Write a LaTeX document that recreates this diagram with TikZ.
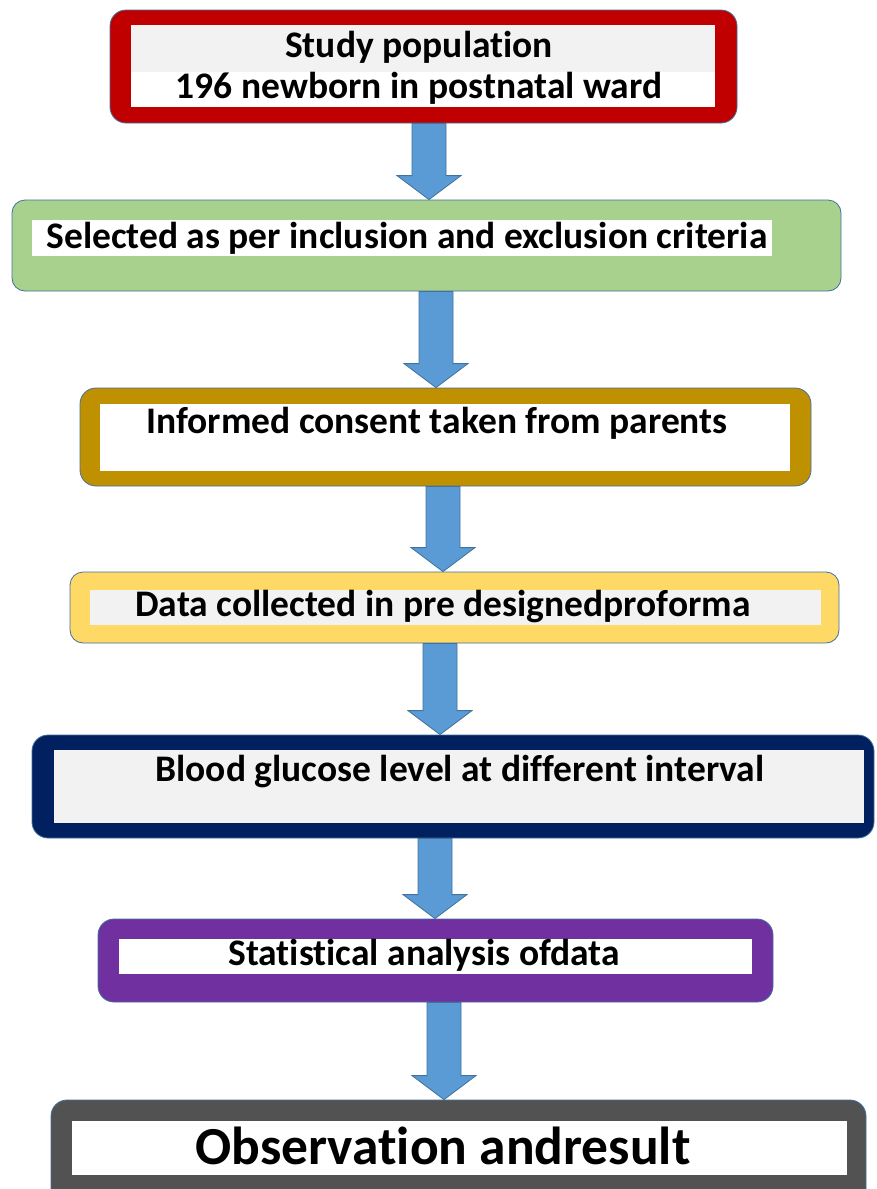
\documentclass[tikz,border=0pt]{standalone}
\usepackage{fontspec}
\setmainfont{Carlito}[Ligatures=NoCommon]
\usetikzlibrary{calc}

\definecolor{framered}{HTML}{C00000}
\definecolor{framegreen}{HTML}{A9D18E}
\definecolor{framegold}{HTML}{BF9000}
\definecolor{frameyellow}{HTML}{FFD966}
\definecolor{framenavy}{HTML}{002060}
\definecolor{framepurple}{HTML}{7030A0}
\definecolor{framegray}{HTML}{525252}
\definecolor{panelgray}{HTML}{F2F2F2}
\definecolor{edgeblue}{HTML}{41719C}
\definecolor{arrowblue}{HTML}{5B9BD5}

\tikzset{every picture/.style={line width=0.8pt}}
\tikzset{
  frame/.style={rounded corners=16pt, draw=edgeblue, inner sep=0pt},
  panel/.style={inner sep=0pt},
  steptext/.style={inner sep=0pt, font=\fontsize{37.5}{42}\selectfont\bfseries},
  flowarrow/.style={fill=arrowblue, draw=edgeblue},
}

% blue block arrow: shaft x, upper box, lower box
\newcommand\stagearrow[3]{%
  \path[flowarrow] ($(#2.south -| #1,0)+(-17,0)$) -- ($(#3.north -| #1,0)+(-17,-24)$)
    -- ($(#3.north -| #1,0)+(-32,-24)$) -- (#3.north -| #1,0)
    -- ($(#3.north -| #1,0)+(32,-24)$) -- ($(#3.north -| #1,0)+(17,-24)$)
    -- ($(#2.south -| #1,0)+(17,0)$) -- cycle;}

\begin{document}
\begin{tikzpicture}[x=1pt,y=-1pt]
  \useasboundingbox[fill=white] (0,0) rectangle (876,1189);
  \clip (0,0) rectangle (876,1189);

  % study population
  \node[frame, fill=framered, minimum width=627, minimum height=113] (pop) at (423.5,66.5) {};
  \node[panel, fill=panelgray, minimum width=584, minimum height=47] (poptop) at (423,48.5) {};
  \node[panel, fill=white, minimum width=584, minimum height=35] (popbot) at (423,89.5) {};
  \node[steptext] (poptext) at (419,47) {Study population};
  \node[steptext] (popcount) at (419,88) {196 newborn in postnatal ward};

  % selection
  \node[frame, rounded corners=13pt, fill=framegreen, minimum width=829, minimum height=91] (select) at (426.5,245.5) {};
  \node[panel, fill=white, minimum width=740, minimum height=36] (selectpanel) at (402,238) {};
  \node[steptext] (selecttext) at (407,238) {Selected as per inclusion and exclusion criteria};

  % consent
  \node[frame, fill=framegold, minimum width=731, minimum height=98] (consent) at (445.5,437) {};
  \node[panel, fill=white, minimum width=690, minimum height=67] (consentpanel) at (445,437.5) {};
  \node[steptext] (consenttext) at (437,423) {Informed consent taken from parents};

  % data collection
  \node[frame, rounded corners=13pt, fill=frameyellow, minimum width=769, minimum height=71] (data) at (454.5,607.5) {};
  \node[panel, fill=panelgray, minimum width=731, minimum height=35] (datapanel) at (455.5,607.5) {};
  \node[steptext] (datatext) at (443,607) {Data collected in pre designedproforma};

  % glucose
  \node[frame, fill=framenavy, minimum width=842, minimum height=103] (glucose) at (453,786.5) {};
  \node[panel, fill=panelgray, minimum width=810, minimum height=73] (glucosepanel) at (459,786.5) {};
  \node[steptext] (glucosetext) at (460,772) {Blood glucose level at different interval};

  % analysis
  \node[frame, fill=framepurple, minimum width=675, minimum height=83] (stats) at (435.5,960.5) {};
  \node[panel, fill=white, minimum width=633, minimum height=35] (statspanel) at (435.5,956.5) {};
  \node[steptext] (statstext) at (424,955) {Statistical analysis ofdata};

  % result
  \node[frame, fill=framegray, minimum width=815, minimum height=115] (result) at (458.5,1157.5) {};
  \node[panel, fill=white, minimum width=775, minimum height=54] (resultpanel) at (459.5,1148) {};
  \node[steptext, font=\fontsize{53.5}{60}\selectfont\bfseries] (resulttext) at (443,1146) {Observation andresult};

  \stagearrow{429}{pop}{select}
  \stagearrow{436}{select}{consent}
  \stagearrow{443}{consent}{data}
  \stagearrow{440}{data}{glucose}
  \stagearrow{435}{glucose}{stats}
  \stagearrow{444}{stats}{result}
\end{tikzpicture}
\end{document}
